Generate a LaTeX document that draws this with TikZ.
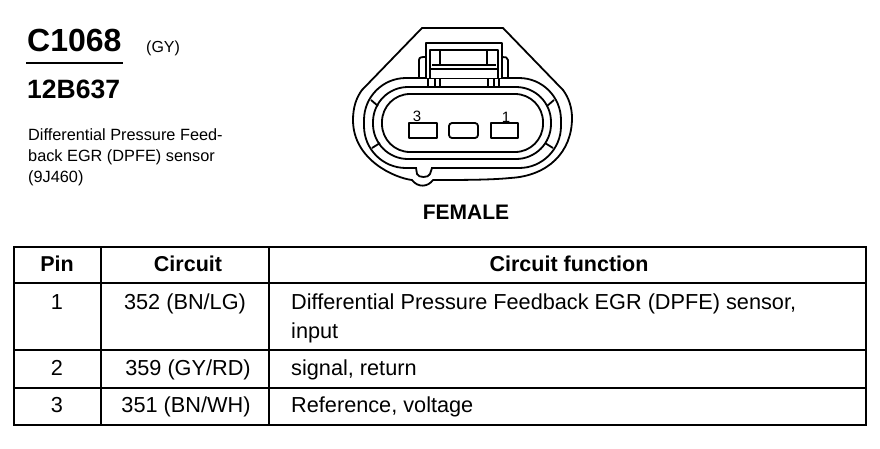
\documentclass[tikz,border=0pt]{standalone}
\usepackage{fontspec}
\setmainfont{Liberation Sans}
\newcommand{\fsz}[1]{\fontsize{#1}{#1}\selectfont}

\begin{document}
\begin{tikzpicture}[x=1pt, y=-1pt,
		rule/.style={line width=2pt},
		outline/.style={line width=1.8pt, line join=round},
		caption/.style={inner sep=0pt, anchor=base west},
		cell/.style={inner sep=0pt, anchor=base, font=\fsz{21.7}},
		txt/.style={inner sep=0pt, anchor=base west, font=\fsz{21.7}},
		head/.style={inner sep=0pt, anchor=base, font=\fsz{21.5}\bfseries}]
	\useasboundingbox (0, 0) rectangle (880, 448);

	\node[caption, font=\fsz{32}\bfseries] (conn) at (27, 51) {C1068};
	\node[caption, font=\fsz{16}] (color) at (146, 52) {(GY)};
	\draw[line width=1.3pt] (26, 63) -- (123, 63);
	\node[caption, font=\fsz{26.5}\bfseries] (partno) at (27, 98) {12B637};
	\node[caption, font=\fsz{16.3}] (desc1) at (28, 140) {Differential Pressure Feed-};
	\node[caption, font=\fsz{16.3}] (desc2) at (28, 161) {back EGR (DPFE) sensor};
	\node[caption, font=\fsz{16.3}] (desc3) at (28, 182) {(9J460)};

	% shell
	\draw[outline] (422, 28) -- (503, 28) -- (563, 90)
		.. controls (569, 98) and (572, 108) .. (572, 118)
		.. controls (572, 152) and (548, 176) .. (510, 178)
		.. controls (490, 180) and (460, 180) .. (433, 180)
		.. controls (428, 187) and (418, 188) .. (412, 180)
		.. controls (395, 178) and (353, 160) .. (353, 120)
		.. controls (353, 108) and (356, 98) .. (362, 90)
		-- cycle;

	% rings
	\draw[outline, rounded corners=42pt] (364, 78) rectangle (561, 168);
	\draw[outline, rounded corners=35pt] (373, 87) rectangle (551, 159);
	\draw[outline, rounded corners=28pt] (382, 94) rectangle (543, 152);
	\foreach \a/\b/\c/\d in {371/100/378/106, 372/148/380/143, 554/100/547/106, 553/148/545/143}
		\draw[outline] (\a, \b) -- (\c, \d);

	% notch
	\fill[white] (417, 166) rectangle (431, 171);
	\draw[outline] (416, 168) -- (417, 174) .. controls (418, 178) and (429, 178) .. (430, 174) -- (432, 168);

	% latch
	\draw[outline, fill=white] (426, 78) -- (426, 43) -- (502, 43) -- (502, 78);
	\draw[outline] (419, 78) -- (419, 60) .. controls (419, 57) and (422, 57) .. (426, 57);
	\draw[outline] (508, 78) -- (508, 60) .. controls (508, 57) and (505, 57) .. (502, 57);
	\draw[outline] (430, 78) -- (430, 50) -- (498, 50) -- (498, 78);
	\draw[outline] (440, 50) -- (440, 65);
	\draw[outline] (487, 50) -- (487, 65);
	\draw[line width=2.5pt] (432, 65) -- (496, 65);
	\draw[outline] (430, 69) -- (498, 69);
	\foreach \x in {428, 435, 440, 488, 494, 499}
		\draw[outline] (\x, 78) -- (\x, 87);

	% terminals
	\draw[outline] (409, 123) rectangle (437, 138);
	\draw[outline, rounded corners=3pt] (449, 123) rectangle (478, 138);
	\draw[outline] (491, 123) rectangle (518, 138);
	\node[inner sep=0pt, anchor=base, font=\fsz{15}] (pin3) at (417, 121) {3};
	\node[inner sep=0pt, anchor=base, font=\fsz{15}] (pin1) at (506, 122) {1};
	\node[inner sep=0pt, anchor=base, font=\fsz{21}\bfseries] (gender) at (466, 219) {FEMALE};

	% table
	\draw[rule] (14, 247) rectangle (866, 425);
	\foreach \y in {283, 350, 388}
		\draw[rule] (14, \y) -- (866, \y);
	\foreach \x in {101, 269}
		\draw[rule] (\x, 247) -- (\x, 425);

	\node[head] (hpin) at (57, 271) {Pin};
	\node[head] (hcircuit) at (188, 271) {Circuit};
	\node[head] (hfunc) at (569, 271) {Circuit function};

	\node[cell] (p1) at (57, 309) {1};
	\node[cell] (c1) at (185, 309) {352 (BN/LG)};
	\node[txt] (f1) at (291, 309) {Differential Pressure Feedback EGR (DPFE) sensor,};
	\node[txt] (f1b) at (291, 338) {input};

	\node[cell] (p2) at (57, 375) {2};
	\node[cell] (c2) at (188, 375) {359 (GY/RD)};
	\node[txt] (f2) at (291, 375) {signal, return};

	\node[cell] (p3) at (57, 412) {3};
	\node[cell] (c3) at (186, 412) {351 (BN/WH)};
	\node[txt] (f3) at (291, 412) {Reference, voltage};
\end{tikzpicture}
\end{document}
